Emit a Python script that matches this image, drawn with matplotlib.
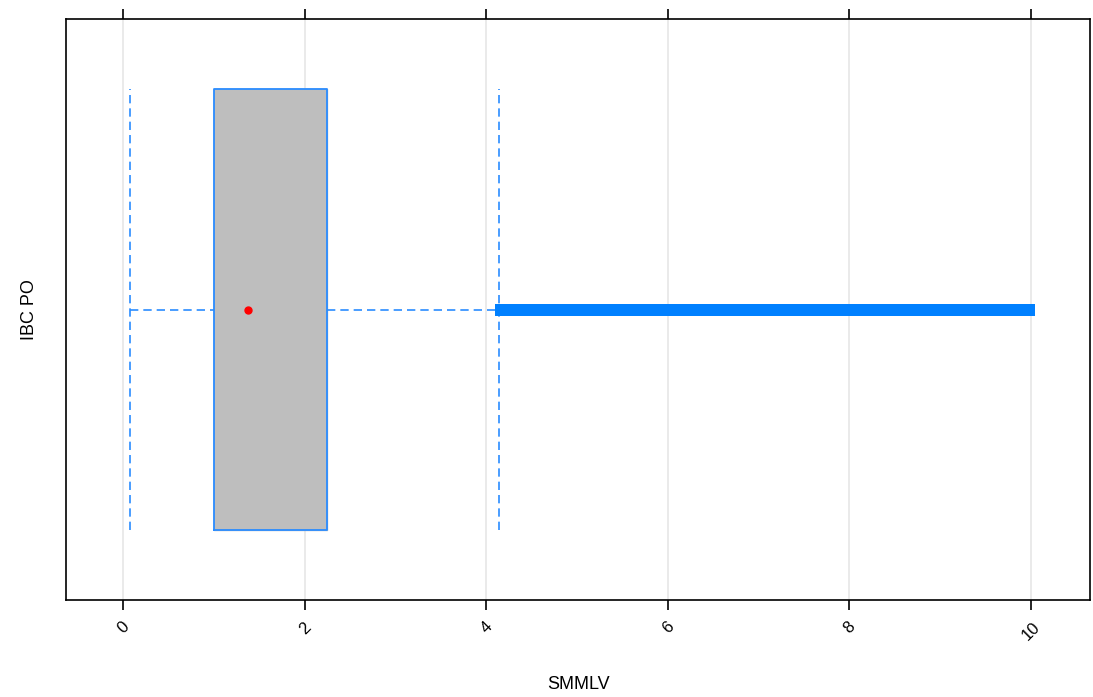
import matplotlib
matplotlib.use('Agg')
import matplotlib.pyplot as plt

plt.rcParams['font.family'] = ['Liberation Sans', 'DejaVu Sans']

# resumen del boxplot (SMMLV por grupo IBC PO)
grupo = 'IBC PO'
caja = [1.00, 2.25]          # cuartil 1 y 3
mediana = 1.38
bigotes = [0.07, 4.14]
# valores atipicos (banda continua hasta 10)
atipicos = [4.16, 4.21, 4.27, 4.33, 4.40, 4.46, 4.52, 4.60, 4.67, 4.75,
            4.82, 4.90, 4.98, 5.05, 5.12, 5.20, 5.28, 5.35, 5.43, 5.50,
            5.58, 5.66, 5.73, 5.81, 5.90, 5.97, 6.05, 6.12, 6.20, 6.28,
            6.36, 6.44, 6.51, 6.60, 6.67, 6.75, 6.83, 6.90, 6.98, 7.06,
            7.14, 7.21, 7.30, 7.38, 7.45, 7.53, 7.61, 7.69, 7.77, 7.85,
            7.93, 8.00, 8.08, 8.16, 8.24, 8.32, 8.40, 8.48, 8.56, 8.63,
            8.71, 8.80, 8.87, 8.95, 9.03, 9.11, 9.19, 9.27, 9.35, 9.43,
            9.51, 9.59, 9.67, 9.75, 9.83, 9.91, 9.98]
ticks_x = [0, 2, 4, 6, 8, 10]

azul = '#2a8cff'
fig = plt.figure(figsize=(10.93, 6.97), dpi=100)
ax = fig.add_axes([0.0604, 0.1392, 0.9369, 0.8335])

y0 = 1.0
h = 0.5
# caja
ax.fill_between(caja, y0 - h, y0 + h, color='#bebebe', zorder=2)
ax.plot([caja[0], caja[1], caja[1], caja[0], caja[0]],
        [y0 - h, y0 - h, y0 + h, y0 + h, y0 - h], color=azul, lw=1.3, zorder=3)
# bigotes
ax.plot([bigotes[0], caja[0]], [y0, y0], color=azul, ls=(0, (5, 3)), lw=1.2, zorder=3)
ax.plot([caja[1], bigotes[1]], [y0, y0], color=azul, ls=(0, (5, 3)), lw=1.2, zorder=3)
for b in bigotes:
    ax.plot([b, b], [y0 - h, y0 + h], color=azul, ls=(0, (5, 3)), lw=1.2, zorder=3)
# atipicos
ax.plot(atipicos, [y0] * len(atipicos), 's', color='#0080ff', ms=8,
        markeredgewidth=0, zorder=4)
# mediana
ax.plot([mediana], [y0], 'o', color='red', ms=5, zorder=5)

ax.set_xlim(-0.63, 10.65)
ax.set_ylim(0.34, 1.66)
ax.set_xticks(ticks_x)
ax.set_xticklabels([str(t) for t in ticks_x], rotation=45, ha='center', va='top')
ax.set_yticks([])
for t in ticks_x:
    ax.axvline(t, color='#e6e6e6', lw=1.2, zorder=1)
ax.tick_params(axis='x', top=True, direction='out', length=7, width=1.2,
               labelsize=12, pad=7)
for s in ax.spines.values():
    s.set_linewidth(1.2)
ax.set_xlabel('SMMLV', fontsize=13, labelpad=24)
ax.set_ylabel(grupo, fontsize=13, labelpad=20)

fig.savefig('out.png', dpi=100)
